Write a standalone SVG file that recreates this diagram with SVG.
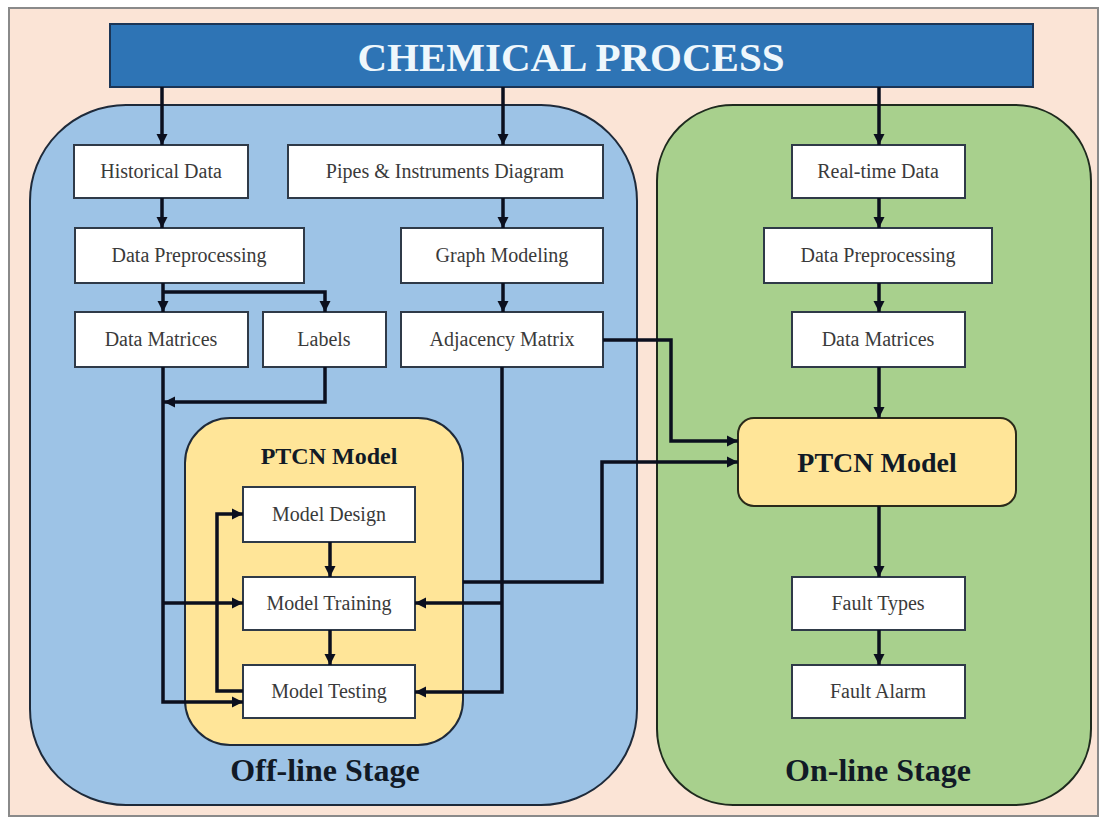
<svg xmlns="http://www.w3.org/2000/svg" width="1106" height="818" viewBox="0 0 1106 818">
<defs>
<marker id="ah" markerUnits="userSpaceOnUse" markerWidth="12" markerHeight="12" refX="11" refY="6" orient="auto">
<path d="M0,0.5 L11,6 L0,11.5 z" fill="#0b0f1e"/>
</marker>
<style>
.box{fill:#ffffff;stroke:#2f3a48;stroke-width:2}
.lbl{font-family:"Liberation Serif","Times New Roman",serif;font-size:20px;fill:#3a3a3a;text-anchor:middle}
.conn path{fill:none;stroke:#0b0f1e;stroke-width:3.5;stroke-linejoin:miter}
.arr{marker-end:url(#ah)}
.stage{font-family:"Liberation Serif","Times New Roman",serif;font-weight:bold;font-size:32px;fill:#111a26;text-anchor:middle}
</style>
</defs>
<rect x="0" y="0" width="1106" height="818" fill="#ffffff"/>
<rect id="frame" x="9" y="8" width="1089" height="808" fill="#fbe4d6" stroke="#8a8a8a" stroke-width="2"/>

<g id="offline-panel">
<rect x="30" y="105" width="607" height="700" rx="96" ry="96" fill="#9dc3e6" stroke="#1e2a3a" stroke-width="2"/>
<text class="stage" x="325" y="781">Off-line Stage</text>
</g>
<g id="online-panel">
<rect x="657" y="105" width="434" height="700" rx="76" ry="76" fill="#a8d08d" stroke="#1e2a1e" stroke-width="2"/>
<text class="stage" x="878" y="781">On-line Stage</text>
</g>

<g id="chemical-process">
<rect x="110" y="24" width="923" height="63" fill="#2e74b5" stroke="#1b3556" stroke-width="2"/>
<text x="571" y="71" font-family="'Liberation Serif','Times New Roman',serif" font-weight="bold" font-size="41" fill="#eef7fc" text-anchor="middle">CHEMICAL PROCESS</text>
</g>

<g id="ptcn-offline">
<rect x="185" y="418" width="278" height="327" rx="45" ry="45" fill="#ffe598" stroke="#1e2a3a" stroke-width="2"/>
<text x="329" y="464" font-family="'Liberation Serif','Times New Roman',serif" font-weight="bold" font-size="24" fill="#111a26" text-anchor="middle">PTCN Model</text>
</g>

<g id="historical-data"><rect class="box" x="74" y="145" width="174" height="53"/><text class="lbl" x="161" y="178">Historical Data</text></g>
<g id="pid"><rect class="box" x="288" y="145" width="315" height="53"/><text class="lbl" x="445" y="178">Pipes &amp; Instruments Diagram</text></g>
<g id="data-preprocessing-off"><rect class="box" x="75" y="228" width="229" height="55"/><text class="lbl" x="189" y="262">Data Preprocessing</text></g>
<g id="graph-modeling"><rect class="box" x="401" y="228" width="202" height="55"/><text class="lbl" x="502" y="262">Graph Modeling</text></g>
<g id="data-matrices-off"><rect class="box" x="75" y="312" width="173" height="55"/><text class="lbl" x="161" y="346">Data Matrices</text></g>
<g id="labels"><rect class="box" x="263" y="312" width="123" height="55"/><text class="lbl" x="324" y="346">Labels</text></g>
<g id="adjacency-matrix"><rect class="box" x="401" y="312" width="202" height="55"/><text class="lbl" x="502" y="346">Adjacency Matrix</text></g>
<g id="model-design"><rect class="box" x="243" y="487" width="172" height="55"/><text class="lbl" x="329" y="521">Model Design</text></g>
<g id="model-training"><rect class="box" x="243" y="577" width="172" height="53"/><text class="lbl" x="329" y="610">Model Training</text></g>
<g id="model-testing"><rect class="box" x="243" y="665" width="172" height="53"/><text class="lbl" x="329" y="698">Model Testing</text></g>

<g id="realtime-data"><rect class="box" x="792" y="145" width="173" height="53"/><text class="lbl" x="878" y="178">Real-time Data</text></g>
<g id="data-preprocessing-on"><rect class="box" x="764" y="228" width="228" height="55"/><text class="lbl" x="878" y="262">Data Preprocessing</text></g>
<g id="data-matrices-on"><rect class="box" x="792" y="312" width="173" height="55"/><text class="lbl" x="878" y="346">Data Matrices</text></g>
<g id="ptcn-online"><rect x="738" y="418" width="278" height="88" rx="16" ry="16" fill="#ffe598" stroke="#2a2a1a" stroke-width="2"/><text x="877" y="472" font-family="'Liberation Serif','Times New Roman',serif" font-weight="bold" font-size="28" fill="#111a26" text-anchor="middle">PTCN Model</text></g>
<g id="fault-types"><rect class="box" x="792" y="577" width="173" height="53"/><text class="lbl" x="878" y="610">Fault Types</text></g>
<g id="fault-alarm"><rect class="box" x="792" y="665" width="173" height="53"/><text class="lbl" x="878" y="698">Fault Alarm</text></g>

<g id="connectors" class="conn">
<path class="arr" d="M162,87 V145"/>
<path class="arr" d="M503,87 V145"/>
<path class="arr" d="M879,87 V145"/>
<path class="arr" d="M162,198 V228"/>
<path class="arr" d="M503,198 V228"/>
<path class="arr" d="M163,283 V312"/>
<path class="arr" d="M163,292 H325 V312"/>
<path class="arr" d="M503,283 V312"/>
<path class="arr" d="M325,367 V402 H164"/>
<path class="arr" d="M163,367 V702 H243"/>
<path class="arr" d="M163,603 H243"/>
<path class="arr" d="M243,691 H217 V514 H243"/>
<path class="arr" d="M330,542 V577"/>
<path class="arr" d="M330,630 V665"/>
<path class="arr" d="M502,367 V692 H415"/>
<path class="arr" d="M502,603 H415"/>
<path class="arr" d="M463,582 H602 V462 H738"/>
<path class="arr" d="M603,340 H671 V441 H738"/>
<path class="arr" d="M879,198 V228"/>
<path class="arr" d="M879,283 V312"/>
<path class="arr" d="M879,367 V418"/>
<path class="arr" d="M879,506 V577"/>
<path class="arr" d="M879,630 V665"/>
</g>
</svg>
